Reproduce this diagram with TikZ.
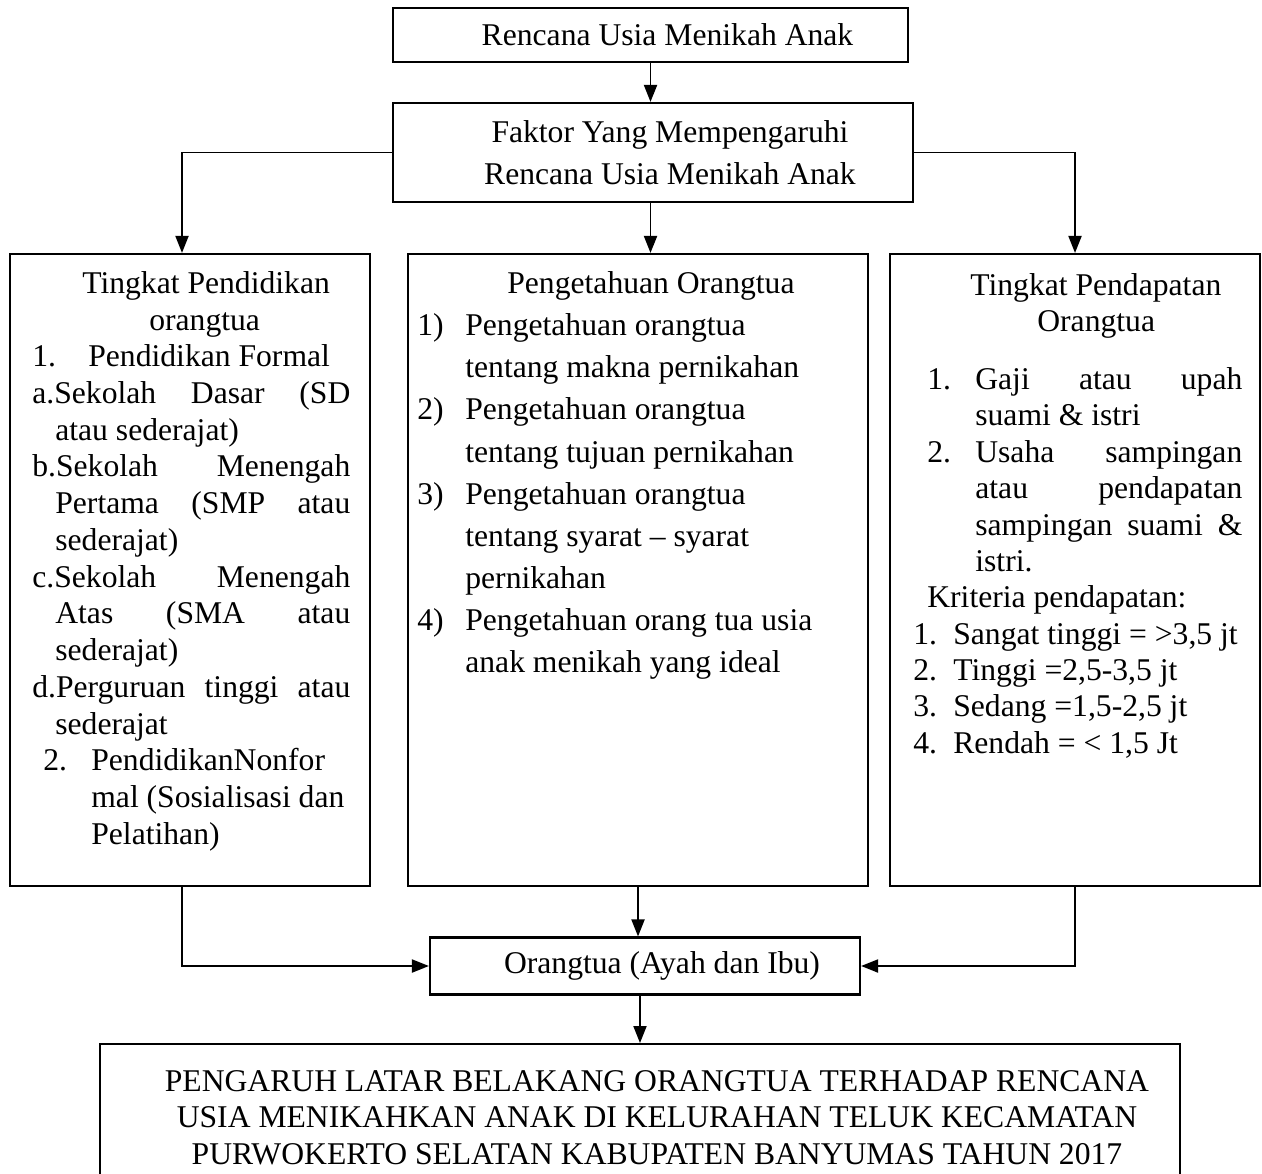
\documentclass[tikz,border=0pt]{standalone}
\usepackage{fontspec}
\setmainfont{Liberation Serif}
\usetikzlibrary{arrows.meta,positioning,calc}
\setlength{\parindent}{0pt}
\newcommand{\nudge}{\hspace*{6.8mm}}
\newcommand{\plainsp}{\spaceskip=0pt\xspaceskip=0pt\relax}
\newcommand{\just}[2]{\makebox[#1][s]{\plainsp #2}}

\begin{document}
\begin{tikzpicture}[
  x=0.2mm, y=-0.2mm,
  font=\fontsize{18}{20.8}\selectfont,
  box/.style={draw=black, line width=1.2pt, inner sep=0pt, align=center},
  txt/.style={inner sep=0pt, anchor=north west, align=left,
              execute at begin node=\plainsp},
  con/.style={line width=1.1pt, -{Triangle[length=3.4mm, width=2.6mm]}}
]
\useasboundingbox (0,0) rectangle (1262,1174);

% ---- top boxes
\node[box, minimum width=103mm, minimum height=10.8mm] (rencana) at (650.5,35)
  {\nudge Rencana Usia Menikah Anak};
\node[box, minimum width=104mm, minimum height=19.8mm,
      font=\fontsize{18}{24}\selectfont] (faktor) at (653,152.5)
  {\nudge Faktor Yang Mempengaruhi\\ \nudge Rencana Usia Menikah Anak};

% ---- three factor columns
\node[box, minimum width=72mm, minimum height=126.4mm] (didik) at (190,570) {};
\node[box, minimum width=92mm, minimum height=126.4mm] (tahu) at (638,570) {};
\node[box, minimum width=74mm, minimum height=126.4mm] (dapat) at (1075,570) {};

\node[txt, text width=66mm, font=\fontsize{18}{20.9}\selectfont] (didik-t) at (32,271)
  {\hspace*{10mm}Tingkat Pendidikan\\
   \hspace*{23.4mm}orangtua\\
   \makebox[11.2mm][l]{1.}Pendidikan Formal\\
   \just{63.6mm}{a.Sekolah Dasar (SD}\\
   \hspace*{4.6mm}atau sederajat)\\
   \just{63.6mm}{b.Sekolah Menengah}\\
   \hspace*{4.6mm}\just{59mm}{Pertama (SMP atau}\\
   \hspace*{4.6mm}sederajat)\\
   \just{63.6mm}{c.Sekolah Menengah}\\
   \hspace*{4.6mm}\just{59mm}{Atas (SMA atau}\\
   \hspace*{4.6mm}sederajat)\\
   \just{63.6mm}{d.Perguruan tinggi atau}\\
   \hspace*{4.6mm}sederajat\\
   \hspace*{2.2mm}\makebox[9.6mm][l]{2.}PendidikanNonfor\\
   \hspace*{11.8mm}mal (Sosialisasi dan\\
   \hspace*{11.8mm}Pelatihan)};

\node[txt, text width=90mm, font=\fontsize{18}{24}\selectfont] (tahu-t) at (417,271)
  {\hspace*{18mm}Pengetahuan Orangtua\\
   \makebox[9.6mm][l]{1)}Pengetahuan orangtua\\
   \hspace*{9.6mm}tentang makna pernikahan\\
   \makebox[9.6mm][l]{2)}Pengetahuan orangtua\\
   \hspace*{9.6mm}tentang tujuan pernikahan\\
   \makebox[9.6mm][l]{3)}Pengetahuan orangtua\\
   \hspace*{9.6mm}tentang syarat -- syarat\\
   \hspace*{9.6mm}pernikahan\\
   \makebox[9.6mm][l]{4)}Pengetahuan orang tua usia\\
   \hspace*{9.6mm}anak menikah yang ideal};

\node[txt, text width=69mm, font=\fontsize{18}{20.7}\selectfont] (dapat-t) at (913,273)
  {\hspace*{11.4mm}Tingkat Pendapatan\\
   \hspace*{24.8mm}Orangtua\\[4.3mm]
   \hspace*{2.8mm}\makebox[9.6mm][l]{1.}\just{53.4mm}{Gaji atau upah}\\
   \hspace*{12.4mm}suami \& istri\\
   \hspace*{2.8mm}\makebox[9.6mm][l]{2.}\just{53.4mm}{Usaha sampingan}\\
   \hspace*{12.4mm}\just{53.4mm}{atau pendapatan}\\
   \hspace*{12.4mm}\just{53.4mm}{sampingan suami \&}\\
   \hspace*{12.4mm}istri.\\
   \hspace*{2.8mm}Kriteria pendapatan:\\
   \makebox[8mm][l]{1.}Sangat tinggi = >3,5 jt\\
   \makebox[8mm][l]{2.}Tinggi =2,5-3,5 jt\\
   \makebox[8mm][l]{3.}Sedang =1,5-2,5 jt\\
   \makebox[8mm][l]{4.}Rendah = < 1,5 Jt};

% ---- bottom boxes
\node[box, minimum width=86mm, minimum height=11.4mm] (ortu) at (645,966)
  {\nudge Orangtua (Ayah dan Ibu)};
\node[box, minimum width=216mm, minimum height=29.4mm, anchor=north] (judul) at (640,1043)
  {\nudge PENGARUH LATAR BELAKANG ORANGTUA TERHADAP RENCANA\\
   \nudge USIA MENIKAHKAN ANAK DI KELURAHAN TELUK KECAMATAN\\
   \nudge PURWOKERTO SELATAN KABUPATEN BANYUMAS TAHUN 2017};

% ---- connectors
\draw[con] (rencana.south) -- (rencana.south |- faktor.north);
\draw[con] (faktor.west) -| ([xshift=-1.6mm]didik.north);
\draw[con] (rencana.south |- faktor.south) -- (rencana.south |- tahu.north);
\draw[con] (faktor.east) -| (dapat.north);
\draw[con] ([xshift=-1.6mm]didik.south) |- (ortu.west);
\draw[con] (tahu.south) -- (tahu.south |- ortu.north);
\draw[con] (dapat.south) |- (ortu.east);
\draw[con] (ortu.south -| judul.north) -- (judul.north);
\end{tikzpicture}
\end{document}
